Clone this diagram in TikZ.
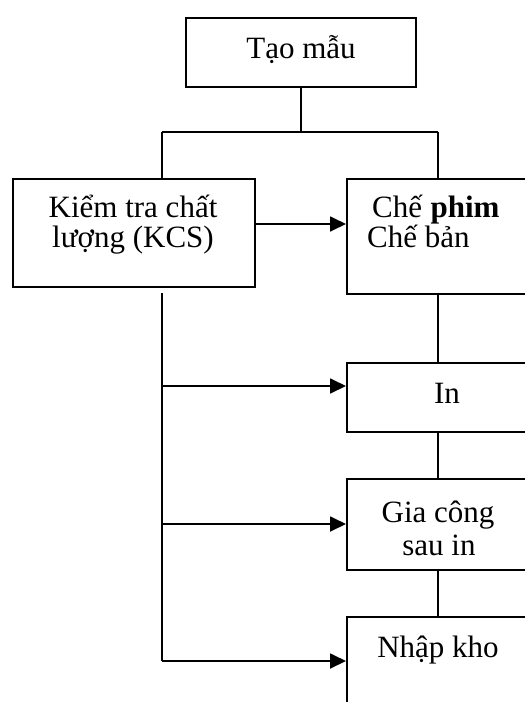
\documentclass[tikz,border=0pt]{standalone}
\usepackage{fontspec}
\setmainfont{Liberation Serif}
\usetikzlibrary{arrows.meta,calc}
\begin{document}
\begin{tikzpicture}[x=1pt,y=-1pt,
  box/.style={draw,line width=1.8pt,inner sep=0pt,anchor=north west},
  lbl/.style={anchor=base,inner sep=0pt,font=\fontsize{31}{31}\selectfont},
  conn/.style={line width=1.8pt},
  arr/.style={line width=1.8pt,-{Triangle[length=16pt,width=15pt]}}]
\useasboundingbox (0,0) rectangle (525,702);
% boxes
\node[box,minimum width=230pt,minimum height=69pt] (tao) at (185,17) {};
\node[box,minimum width=242pt,minimum height=108pt] (kcs) at (12,178) {};
\node[box,minimum width=184pt,minimum height=115pt] (che) at (346,178) {};
\node[box,minimum width=184pt,minimum height=69pt] (in) at (346,362) {};
\node[box,minimum width=184pt,minimum height=91pt] (gia) at (346,478) {};
\node[box,minimum width=184pt,minimum height=110pt] (nhap) at (346,616) {};
% texts
\node[lbl] (taot) at (301,58) {Tạo mẫu};
\node[lbl] (kcs1) at (133,217) {Kiểm tra chất};
\node[lbl] (kcs2) at (133,247) {lượng (KCS)};
\node[lbl,anchor=base west] (che1) at (372,217) {Chế \textbf{phim}};
\node[lbl,anchor=base west] (che2) at (367,247) {Chế bản};
\node[lbl] (int) at (447,403) {In};
\node[lbl] (gia1) at (438,522) {Gia công};
\node[lbl] (gia2) at (439,555) {sau in};
\node[lbl] (nhapt) at (438,657) {Nhập kho};
% coordinates
\coordinate (split) at (301,132);
\coordinate (lk) at (162,132);
\coordinate (rk) at (438,132);
\coordinate (vtop) at (162,293);
\coordinate (v1) at (162,386);
\coordinate (v2) at (162,524);
\coordinate (v3) at (162,661);
% connectors
\draw[conn] (tao.south -| split) -- (split);
\draw[conn] (lk) -- (rk);
\draw[conn] (lk) -- (lk |- kcs.north);
\draw[conn] (rk) -- (rk |- che.north);
\draw[arr] (kcs.east |- 0,224) -- (che.west |- 0,224);
\draw[conn] (che.south -| rk) -- (in.north -| rk);
\draw[conn] (in.south -| rk) -- (gia.north -| rk);
\draw[conn] (gia.south -| rk) -- (nhap.north -| rk);
\draw[conn] (vtop) -- (v3);
\draw[arr] (v1) -- (in.west |- v1);
\draw[arr] (v2) -- (gia.west |- v2);
\draw[arr] (v3) -- (nhap.west |- v3);
\end{tikzpicture}
\end{document}
